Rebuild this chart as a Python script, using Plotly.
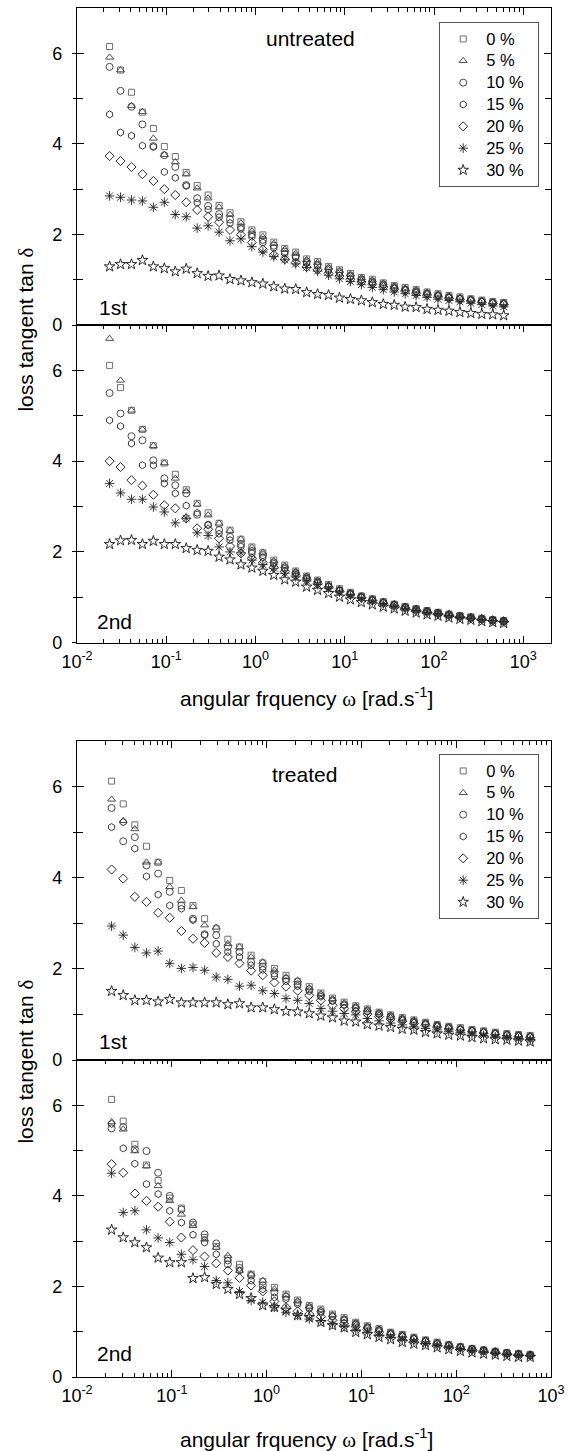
import plotly.graph_objects as go

# ---------------- data ----------------
freq = [0.02317, 0.03073, 0.04076, 0.05406, 0.07171, 0.09511, 0.1262, 0.1673, 0.2219,
        0.2943, 0.3904, 0.5176, 0.6866, 0.9106, 1.208, 1.602, 2.125, 2.818, 3.737,
        4.957, 6.575, 8.718, 11.56, 15.34, 20.34, 26.98, 35.78, 47.46, 62.94, 83.48,
        110.7, 146.8, 194.8, 258.3, 342.6, 454.4, 602.6]

series_labels = ["0 %", "5 %", "10 %", "15 %", "20 %", "25 %", "30 %"]

# untreated, 1st run
ut1_0 = [6.15, 5.63, 5.14, 4.70, 4.34, 3.94, 3.72, 3.37, 3.08, 2.87, 2.64, 2.48, 2.28, 2.10, 1.99, 1.83, 1.69, 1.61, 1.46, 1.40, 1.29, 1.22, 1.14, 1.05, 1.01, 0.93, 0.87, 0.83, 0.78, 0.73, 0.69, 0.65, 0.62, 0.58, 0.55, 0.52, 0.50]
ut1_5 = [5.91, 5.63, 4.84, 4.71, 4.12, 3.76, 3.60, 3.33, 3.02, 2.80, 2.60, 2.44, 2.25, 2.07, 1.95, 1.80, 1.67, 1.58, 1.44, 1.38, 1.27, 1.20, 1.12, 1.04, 0.99, 0.92, 0.86, 0.81, 0.77, 0.72, 0.68, 0.64, 0.61, 0.57, 0.54, 0.51, 0.49]
ut1_10 = [5.70, 5.17, 4.82, 4.43, 3.95, 3.75, 3.49, 3.09, 2.80, 2.63, 2.45, 2.33, 2.16, 2.00, 1.88, 1.75, 1.62, 1.52, 1.40, 1.33, 1.24, 1.17, 1.09, 1.01, 0.96, 0.90, 0.84, 0.79, 0.75, 0.70, 0.66, 0.62, 0.59, 0.56, 0.53, 0.50, 0.48]
ut1_15 = [4.65, 4.25, 4.18, 3.96, 3.93, 3.38, 3.25, 3.07, 2.70, 2.55, 2.38, 2.25, 2.12, 1.95, 1.82, 1.70, 1.58, 1.49, 1.37, 1.31, 1.21, 1.14, 1.07, 0.99, 0.94, 0.88, 0.82, 0.78, 0.73, 0.69, 0.65, 0.61, 0.58, 0.55, 0.52, 0.49, 0.47]
ut1_20 = [3.73, 3.62, 3.49, 3.33, 3.18, 3.00, 2.87, 2.71, 2.54, 2.39, 2.27, 2.10, 1.99, 1.82, 1.67, 1.55, 1.45, 1.38, 1.28, 1.22, 1.14, 1.08, 1.01, 0.95, 0.90, 0.84, 0.79, 0.75, 0.70, 0.66, 0.62, 0.59, 0.56, 0.53, 0.50, 0.47, 0.45]
ut1_25 = [2.85, 2.82, 2.76, 2.74, 2.60, 2.71, 2.44, 2.39, 2.14, 2.19, 2.05, 1.86, 1.90, 1.73, 1.61, 1.51, 1.44, 1.35, 1.27, 1.19, 1.10, 1.02, 0.96, 0.89, 0.83, 0.78, 0.73, 0.69, 0.65, 0.61, 0.57, 0.54, 0.51, 0.48, 0.45, 0.42, 0.40]
ut1_30 = [1.29, 1.34, 1.34, 1.43, 1.29, 1.25, 1.18, 1.24, 1.14, 1.08, 1.09, 1.01, 0.98, 0.94, 0.91, 0.85, 0.80, 0.79, 0.72, 0.68, 0.66, 0.60, 0.57, 0.54, 0.50, 0.46, 0.44, 0.40, 0.39, 0.35, 0.33, 0.31, 0.28, 0.26, 0.24, 0.23, 0.21]

# untreated, 2nd run
ut2_0 = [6.11, 5.62, 5.12, 4.70, 4.34, 3.96, 3.71, 3.37, 3.07, 2.86, 2.63, 2.48, 2.28, 2.11, 1.98, 1.82, 1.71, 1.58, 1.47, 1.38, 1.28, 1.19, 1.11, 1.03, 0.97, 0.91, 0.85, 0.80, 0.75, 0.71, 0.67, 0.63, 0.60, 0.57, 0.54, 0.51, 0.49]
ut2_5 = [6.70, 5.78, 5.12, 4.70, 4.34, 3.96, 3.62, 3.34, 3.05, 2.81, 2.63, 2.47, 2.28, 2.10, 1.99, 1.80, 1.69, 1.57, 1.46, 1.37, 1.27, 1.18, 1.10, 1.03, 0.96, 0.90, 0.85, 0.79, 0.75, 0.70, 0.66, 0.63, 0.59, 0.56, 0.53, 0.51, 0.48]
ut2_10 = [5.50, 5.05, 4.55, 4.46, 4.02, 3.62, 3.47, 3.29, 2.82, 2.60, 2.48, 2.33, 2.17, 2.02, 1.93, 1.77, 1.66, 1.54, 1.44, 1.35, 1.25, 1.16, 1.09, 1.02, 0.95, 0.89, 0.84, 0.79, 0.74, 0.70, 0.66, 0.62, 0.59, 0.56, 0.53, 0.50, 0.48]
ut2_15 = [4.90, 4.77, 4.39, 3.91, 3.91, 3.51, 3.29, 3.02, 2.86, 2.59, 2.40, 2.26, 2.12, 1.97, 1.88, 1.74, 1.63, 1.52, 1.42, 1.33, 1.24, 1.15, 1.08, 1.01, 0.94, 0.88, 0.83, 0.78, 0.73, 0.69, 0.65, 0.62, 0.58, 0.55, 0.52, 0.50, 0.47]
ut2_20 = [4.00, 3.87, 3.58, 3.46, 3.26, 3.03, 2.96, 2.74, 2.52, 2.50, 2.30, 2.13, 1.97, 1.86, 1.76, 1.66, 1.57, 1.48, 1.39, 1.30, 1.22, 1.13, 1.06, 0.99, 0.93, 0.87, 0.82, 0.77, 0.72, 0.68, 0.64, 0.61, 0.57, 0.54, 0.52, 0.49, 0.47]
ut2_25 = [3.51, 3.30, 3.16, 3.16, 2.99, 2.88, 2.64, 2.74, 2.42, 2.36, 2.11, 2.00, 1.98, 1.82, 1.72, 1.64, 1.53, 1.45, 1.36, 1.28, 1.20, 1.12, 1.05, 0.98, 0.92, 0.86, 0.81, 0.76, 0.72, 0.67, 0.64, 0.60, 0.57, 0.54, 0.51, 0.49, 0.47]
ut2_30 = [2.17, 2.25, 2.26, 2.17, 2.24, 2.17, 2.17, 2.08, 2.04, 2.02, 1.89, 1.83, 1.72, 1.65, 1.58, 1.49, 1.39, 1.34, 1.23, 1.16, 1.09, 1.01, 0.95, 0.89, 0.84, 0.79, 0.75, 0.70, 0.66, 0.62, 0.59, 0.55, 0.52, 0.50, 0.47, 0.45, 0.43]

# treated, 1st run
tr1_0 = [6.12, 5.62, 5.16, 4.69, 4.34, 3.94, 3.72, 3.39, 3.10, 2.88, 2.65, 2.48, 2.30, 2.13, 2.01, 1.86, 1.72, 1.61, 1.47, 1.36, 1.27, 1.19, 1.12, 1.05, 0.99, 0.93, 0.88, 0.83, 0.78, 0.74, 0.71, 0.67, 0.64, 0.61, 0.58, 0.56, 0.54]
tr1_5 = [5.72, 5.25, 5.07, 4.34, 4.34, 3.80, 3.50, 3.36, 2.96, 2.91, 2.55, 2.48, 2.26, 2.15, 1.97, 1.82, 1.75, 1.58, 1.45, 1.34, 1.25, 1.18, 1.11, 1.04, 0.98, 0.92, 0.87, 0.82, 0.77, 0.73, 0.70, 0.66, 0.63, 0.60, 0.57, 0.55, 0.53]
tr1_10 = [5.53, 4.80, 4.89, 4.27, 4.09, 3.69, 3.39, 3.10, 2.76, 2.74, 2.48, 2.37, 2.15, 2.05, 1.90, 1.78, 1.66, 1.55, 1.42, 1.31, 1.22, 1.15, 1.08, 1.02, 0.96, 0.90, 0.85, 0.80, 0.76, 0.72, 0.68, 0.65, 0.62, 0.59, 0.56, 0.54, 0.52]
tr1_15 = [5.11, 5.22, 4.64, 4.03, 3.63, 3.39, 3.32, 3.07, 2.74, 2.55, 2.37, 2.26, 2.08, 1.98, 1.84, 1.73, 1.62, 1.51, 1.39, 1.29, 1.20, 1.13, 1.06, 1.00, 0.94, 0.89, 0.84, 0.79, 0.75, 0.71, 0.67, 0.64, 0.61, 0.58, 0.55, 0.53, 0.51]
tr1_20 = [4.18, 3.98, 3.58, 3.47, 3.23, 3.12, 2.83, 2.66, 2.57, 2.35, 2.26, 2.12, 1.96, 1.86, 1.70, 1.61, 1.52, 1.42, 1.31, 1.20, 1.13, 1.06, 1.01, 0.95, 0.90, 0.85, 0.80, 0.76, 0.72, 0.68, 0.65, 0.62, 0.59, 0.56, 0.53, 0.51, 0.49]
tr1_25 = [2.94, 2.74, 2.47, 2.35, 2.39, 2.12, 2.01, 2.03, 1.97, 1.82, 1.77, 1.62, 1.64, 1.52, 1.46, 1.35, 1.31, 1.24, 1.13, 1.07, 1.02, 0.99, 0.91, 0.86, 0.81, 0.77, 0.73, 0.69, 0.66, 0.63, 0.60, 0.57, 0.54, 0.51, 0.49, 0.47, 0.45]
tr1_30 = [1.51, 1.42, 1.31, 1.31, 1.28, 1.33, 1.26, 1.26, 1.26, 1.26, 1.22, 1.24, 1.15, 1.15, 1.11, 1.07, 1.06, 1.02, 0.97, 0.93, 0.86, 0.84, 0.78, 0.75, 0.72, 0.68, 0.66, 0.61, 0.58, 0.55, 0.53, 0.50, 0.47, 0.45, 0.44, 0.42, 0.40]

# treated, 2nd run
tr2_0 = [6.13, 5.65, 5.14, 4.68, 4.34, 3.95, 3.73, 3.37, 3.08, 2.88, 2.62, 2.49, 2.27, 2.11, 1.98, 1.83, 1.70, 1.58, 1.50, 1.39, 1.31, 1.21, 1.13, 1.07, 0.99, 0.94, 0.88, 0.82, 0.77, 0.72, 0.67, 0.63, 0.60, 0.57, 0.54, 0.52, 0.50]
tr2_5 = [5.63, 5.47, 4.99, 4.66, 4.22, 3.89, 3.59, 3.34, 3.04, 2.86, 2.68, 2.35, 2.27, 2.13, 1.94, 1.81, 1.68, 1.56, 1.48, 1.37, 1.29, 1.19, 1.12, 1.05, 0.98, 0.93, 0.87, 0.81, 0.76, 0.71, 0.67, 0.63, 0.59, 0.56, 0.54, 0.51, 0.49]
tr2_10 = [5.49, 5.52, 5.03, 4.99, 4.51, 4.00, 3.70, 3.41, 3.15, 2.95, 2.49, 2.41, 2.24, 2.02, 1.87, 1.77, 1.65, 1.54, 1.45, 1.35, 1.27, 1.18, 1.10, 1.04, 0.97, 0.92, 0.86, 0.80, 0.75, 0.70, 0.66, 0.62, 0.59, 0.56, 0.53, 0.51, 0.49]
tr2_15 = [5.59, 5.05, 4.71, 4.26, 4.04, 3.67, 3.41, 3.14, 2.97, 2.71, 2.57, 2.35, 2.13, 1.94, 1.76, 1.72, 1.61, 1.51, 1.42, 1.33, 1.25, 1.16, 1.09, 1.03, 0.96, 0.91, 0.85, 0.79, 0.74, 0.70, 0.66, 0.62, 0.58, 0.55, 0.53, 0.50, 0.48]
tr2_20 = [4.70, 4.51, 4.05, 3.89, 3.76, 3.43, 3.08, 2.80, 2.66, 2.51, 2.35, 2.19, 2.02, 1.89, 1.67, 1.54, 1.45, 1.39, 1.33, 1.25, 1.18, 1.11, 1.05, 0.99, 0.93, 0.88, 0.83, 0.78, 0.73, 0.69, 0.65, 0.61, 0.58, 0.55, 0.52, 0.50, 0.48]
tr2_25 = [4.50, 3.63, 3.67, 3.25, 3.07, 2.97, 2.71, 2.59, 2.44, 2.13, 2.08, 1.89, 1.69, 1.65, 1.54, 1.43, 1.36, 1.28, 1.24, 1.17, 1.11, 1.04, 0.99, 0.93, 0.88, 0.83, 0.79, 0.74, 0.70, 0.66, 0.62, 0.59, 0.56, 0.53, 0.51, 0.49, 0.47]
tr2_30 = [3.25, 3.08, 2.97, 2.86, 2.63, 2.53, 2.53, 2.18, 2.20, 2.05, 1.94, 1.83, 1.74, 1.58, 1.54, 1.48, 1.36, 1.32, 1.21, 1.14, 1.09, 0.99, 0.94, 0.88, 0.83, 0.77, 0.73, 0.70, 0.65, 0.61, 0.57, 0.54, 0.51, 0.49, 0.46, 0.44, 0.44]

x_major = [0.01, 0.1, 1, 10, 100, 1000]
x_major_text = ["10<sup>-2</sup>", "10<sup>-1</sup>", "10<sup>0</sup>", "10<sup>1</sup>",
                "10<sup>2</sup>", "10<sup>3</sup>"]
y_major = [0, 2, 4, 6]
y_major_text = ["0", "2", "4", "6"]
y_minor = [1, 3, 5]

# ---------------- styling / layout ----------------
W, H = 573, 1451
ML, MR, MT, MB = 77, 17, 8, 74
PW, PH = W - ML - MR, H - MT - MB
FONT = "Liberation Sans, Arial, sans-serif"
TICKSIZE = 18


def py(p):
    return (H - MB - p) / PH


def px(p):
    return (p - ML) / PW


x_minor = [m * 10.0 ** e for e in range(-2, 4) for m in range(2, 10)]

symbols = ["square-open", "triangle-up-open", "circle-open", "hexagon-open",
           "diamond-open", "asterisk-open", "star-open"]
colors = ["#707070", "#505050", "#4a4a4a", "#3a3a3a", "#2a2a2a", "#222222", "#2a2a2a"]
sizes = [6, 7, 7, 7, 7, 8, 8]

panels = [
    dict(series=[ut1_0, ut1_5, ut1_10, ut1_15, ut1_20, ut1_25, ut1_30], top=8, bot=325,
         xr=[-2, 3.31], first=True, legend="legend"),
    dict(series=[ut2_0, ut2_5, ut2_10, ut2_15, ut2_20, ut2_25, ut2_30], top=325, bot=642.7,
         xr=[-2, 3.31], first=False, legend=None),
    dict(series=[tr1_0, tr1_5, tr1_10, tr1_15, tr1_20, tr1_25, tr1_30], top=741, bot=1060,
         xr=[-2, 3.0], first=True, legend="legend2"),
    dict(series=[tr2_0, tr2_5, tr2_10, tr2_15, tr2_20, tr2_25, tr2_30], top=1060, bot=1377,
         xr=[-2, 3.0], first=False, legend=None),
]

fig = go.Figure()
layout = dict(
    width=W, height=H,
    margin=dict(l=ML, r=MR, t=MT, b=MB, pad=0),
    paper_bgcolor="white", plot_bgcolor="white",
    font=dict(family=FONT, size=TICKSIZE, color="black"),
    showlegend=True,
)

for i, p in enumerate(panels):
    n = i + 1
    xa = "x" if n == 1 else f"x{n}"
    ya = "y" if n == 1 else f"y{n}"
    yo = f"y{n + 4}"
    for k in range(7):
        fig.add_trace(go.Scatter(
            x=freq, y=p["series"][k], mode="markers",
            name='<span style="font-size:16.5px">' + series_labels[k] + "\u00a0\u00a0</span>",
            xaxis=xa, yaxis=ya,
            marker=dict(symbol=symbols[k], size=sizes[k], color=colors[k],
                        line=dict(color=colors[k], width=1 if k != 5 else 0.9)),
            showlegend=p["legend"] is not None,
            legend=p["legend"] if p["legend"] else "legend",
        ))
    # empty trace so that the overlay (tick-only) axis is drawn
    fig.add_trace(go.Scatter(x=[], y=[], xaxis=xa, yaxis=yo, showlegend=False,
                             hoverinfo="skip"))

    dom = [py(p["bot"]), py(p["top"])]
    xkey = "xaxis" if n == 1 else f"xaxis{n}"
    ykey = "yaxis" if n == 1 else f"yaxis{n}"
    okey = f"yaxis{n + 4}"
    xcommon = dict(
        type="log", range=p["xr"], domain=[0, 1], anchor=ya,
        ticks="inside", ticklen=7, tickwidth=1.2, tickcolor="black",
        minor=dict(tickmode="array", tickvals=x_minor, ticks="inside", ticklen=4,
                   tickwidth=1, tickcolor="black", showgrid=False),
        showline=True, linecolor="black", linewidth=1.4,
        showgrid=False, zeroline=False, fixedrange=True,
        tickfont=dict(family=FONT, size=TICKSIZE, color="black"),
    )
    if p["first"]:
        xcommon.update(side="top", mirror=True, showticklabels=False,
                       tickmode="array", tickvals=x_major,
                       ticktext=[""] * len(x_major))
    else:
        xcommon.update(side="bottom", mirror="ticks", showticklabels=True,
                       tickmode="array", tickvals=x_major, ticktext=x_major_text,
                       ticklabelstandoff=2)
    layout[xkey] = xcommon
    layout[ykey] = dict(
        domain=dom, anchor=xa, range=[0, 7],
        tickmode="array", tickvals=y_major, ticktext=y_major_text,
        ticks="outside", ticklen=4, tickwidth=1.2, tickcolor="black",
        minor=dict(tickmode="array", tickvals=y_minor, ticks="outside", ticklen=3,
                   tickwidth=1, tickcolor="black", showgrid=False),
        showline=True, linecolor="black", linewidth=1.4, mirror=True,
        showgrid=False, zeroline=False, fixedrange=True,
        tickfont=dict(family=FONT, size=TICKSIZE, color="black"),
        ticklabelstandoff=6,
    )
    layout[okey] = dict(
        overlaying=ya, anchor=xa, range=[0, 7],
        tickmode="array", tickvals=y_major, ticktext=[""] * len(y_major),
        ticks="inside", ticklen=7, tickwidth=1.2, tickcolor="black",
        minor=dict(tickmode="array", tickvals=y_minor, ticks="inside", ticklen=6,
                   tickwidth=1, tickcolor="black", showgrid=False),
        showline=True, linecolor="black", linewidth=1.4, mirror="ticks",
        showticklabels=False, showgrid=False, zeroline=False, fixedrange=True,
    )

legend_common = dict(
    xanchor="left", yanchor="top", bgcolor="white",
    bordercolor="#555555", borderwidth=1,
    font=dict(family=FONT, size=14.5, color="black"),
    tracegroupgap=0, itemwidth=36,
)
layout["legend"] = dict(x=px(443), y=py(22), **legend_common)
layout["legend2"] = dict(x=px(443), y=py(754), **legend_common)

ann_font = dict(family=FONT, size=21, color="black")
xtitle = "angular frquency <span style=\"font-family:Liberation Serif\">\u03c9</span> [rad.s<sup>-1</sup>]"
ytitle = "loss tangent tan <span style=\"font-family:Liberation Serif\">\u03b4</span>"
annotations = [
    dict(text="untreated", x=px(313), y=py(38)),
    dict(text="treated", x=px(307), y=py(774)),
    dict(text="1st", x=px(113), y=py(307)),
    dict(text="2nd", x=px(115), y=py(621)),
    dict(text="1st", x=px(113), y=py(1041)),
    dict(text="2nd", x=px(115), y=py(1353)),
    dict(text=xtitle, x=px(309), y=py(697)),
    dict(text=xtitle, x=px(309), y=py(1438)),
    dict(text=ytitle, x=px(25), y=py(330), textangle=-90),
    dict(text=ytitle, x=px(25), y=py(1062), textangle=-90),
]
for a in annotations:
    a.update(xref="paper", yref="paper", showarrow=False, xanchor="center",
             yanchor="middle", font=ann_font)
layout["annotations"] = annotations

fig.update_layout(**layout)
fig.write_html("out.html")
